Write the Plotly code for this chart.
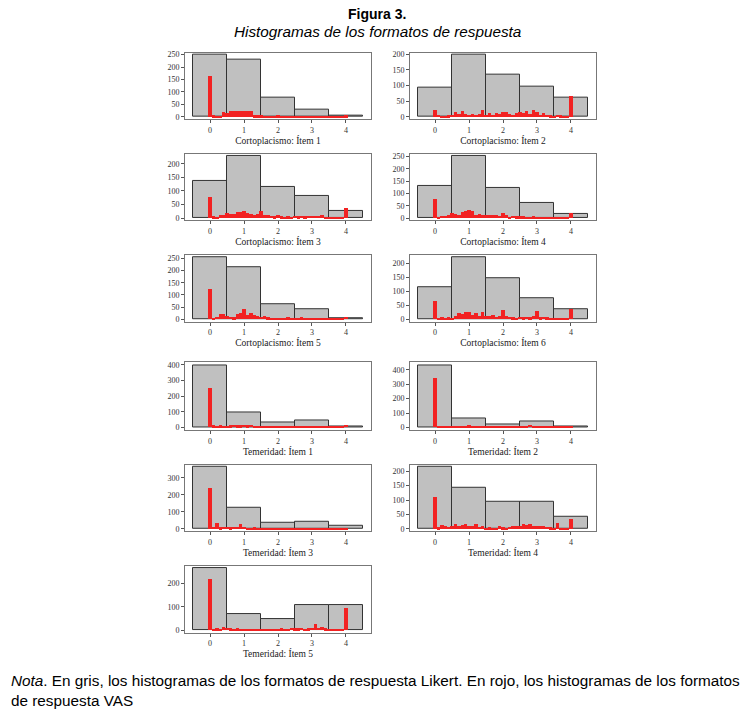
import plotly.graph_objects as go

# ---- datos ----
titles = [
    "Cortoplacismo: Ítem 1", "Cortoplacismo: Ítem 2",
    "Cortoplacismo: Ítem 3", "Cortoplacismo: Ítem 4",
    "Cortoplacismo: Ítem 5", "Cortoplacismo: Ítem 6",
    "Temeridad: Ítem 1", "Temeridad: Ítem 2",
    "Temeridad: Ítem 3", "Temeridad: Ítem 4",
    "Temeridad: Ítem 5",
]

# categorías Likert (0-4) y centros de clase de la escala VAS
likert_points = [0, 1, 2, 3, 4]
vas_points = [0.0, 0.1, 0.2, 0.3, 0.4, 0.5, 0.6, 0.7, 0.8, 0.9,
              1.0, 1.1, 1.2, 1.3, 1.4, 1.5, 1.6, 1.7, 1.8, 1.9,
              2.0, 2.1, 2.2, 2.3, 2.4, 2.5, 2.6, 2.7, 2.8, 2.9,
              3.0, 3.1, 3.2, 3.3, 3.4, 3.5, 3.6, 3.7, 3.8, 3.9, 4.0]
x_ticks = [0, 1, 2, 3, 4]

# frecuencias Likert (gris)
likert_c1 = [248, 228, 75, 30, 5]
likert_c2 = [94, 197, 135, 97, 61]
likert_c3 = [138, 227, 115, 81, 27]
likert_c4 = [132, 250, 122, 62, 15]
likert_c5 = [253, 215, 62, 41, 6]
likert_c6 = [114, 220, 145, 75, 36]
likert_t1 = [400, 94, 35, 42, 9]
likert_t2 = [433, 64, 21, 43, 7]
likert_t3 = [363, 126, 37, 43, 20]
likert_t4 = [214, 144, 95, 95, 42]
likert_t5 = [264, 71, 46, 106, 106]

# frecuencias VAS (rojo)
vas_c1 = [165, 8, 5, 6, 22, 15, 25, 24, 23, 26,
          24, 25, 26, 8, 7, 8, 5, 6, 4, 3,
          7, 5, 4, 3, 2, 3, 2, 5, 3, 2,
          4, 2, 3, 4, 1, 1, 1, 1, 1, 3, 8]
vas_c2 = [24, 8, 3, 5, 6, 8, 16, 10, 18, 9,
          8, 11, 8, 10, 23, 8, 14, 8, 14, 10,
          15, 17, 10, 8, 13, 16, 14, 20, 10, 22,
          15, 8, 13, 7, 6, 5, 7, 6, 4, 3, 66]
vas_c3 = [77, 6, 4, 10, 12, 18, 15, 16, 24, 22,
          25, 20, 15, 12, 14, 25, 10, 12, 8, 7,
          10, 6, 5, 6, 4, 8, 6, 9, 7, 9,
          8, 8, 9, 11, 3, 2, 2, 3, 2, 1, 38]
vas_c4 = [79, 5, 10, 9, 12, 19, 17, 14, 25, 27,
          31, 28, 13, 15, 14, 12, 14, 11, 12, 9,
          20, 12, 6, 10, 7, 8, 7, 6, 6, 7,
          5, 6, 4, 6, 3, 1, 1, 1, 1, 1, 19]
vas_c5 = [122, 4, 10, 22, 20, 14, 10, 8, 22, 26,
          40, 18, 27, 15, 12, 10, 14, 8, 5, 4,
          6, 5, 4, 7, 5, 6, 3, 7, 5, 6,
          3, 5, 4, 3, 2, 2, 2, 1, 2, 1, 10]
vas_c6 = [63, 3, 6, 3, 7, 5, 12, 22, 18, 25,
          27, 15, 23, 10, 26, 12, 10, 13, 8, 10,
          34, 12, 8, 6, 5, 8, 7, 9, 6, 10,
          30, 7, 9, 6, 4, 2, 1, 2, 1, 2, 36]
vas_t1 = [251, 10, 6, 10, 9, 8, 12, 15, 12, 10,
          14, 12, 13, 8, 5, 9, 4, 6, 7, 8,
          9, 8, 6, 4, 3, 6, 4, 8, 9, 5,
          4, 3, 6, 2, 1, 5, 2, 1, 1, 2, 15]
vas_t2 = [343, 10, 8, 9, 7, 6, 5, 10, 8, 4,
          12, 5, 4, 6, 3, 5, 4, 3, 5, 4,
          5, 3, 4, 3, 5, 3, 4, 6, 17, 4,
          5, 3, 4, 2, 3, 1, 2, 1, 1, 2, 7]
vas_t3 = [240, 12, 33, 10, 14, 12, 10, 15, 12, 28,
          14, 8, 6, 10, 5, 4, 6, 3, 4, 3,
          2, 4, 2, 3, 2, 6, 8, 5, 7, 9,
          8, 4, 3, 2, 1, 4, 1, 1, 1, 2, 8]
vas_t4 = [112, 6, 15, 12, 8, 10, 18, 12, 14, 18,
          12, 11, 16, 8, 9, 4, 6, 3, 5, 12,
          6, 4, 8, 11, 12, 9, 18, 14, 17, 12,
          11, 9, 12, 8, 6, 5, 22, 3, 2, 1, 34]
vas_t5 = [217, 5, 8, 6, 12, 10, 8, 6, 7, 5,
          6, 4, 5, 3, 4, 5, 3, 4, 5, 6,
          5, 7, 4, 6, 10, 8, 7, 10, 6, 8,
          10, 26, 9, 12, 7, 4, 3, 2, 5, 3, 94]

likert_counts = [likert_c1, likert_c2, likert_c3, likert_c4, likert_c5,
                 likert_c6, likert_t1, likert_t2, likert_t3, likert_t4,
                 likert_t5]
vas_counts = [vas_c1, vas_c2, vas_c3, vas_c4, vas_c5, vas_c6,
              vas_t1, vas_t2, vas_t3, vas_t4, vas_t5]
y_step = [50, 50, 50, 50, 50, 50, 100, 100, 100, 50, 100]

# ---- disposición (px en una página de 754x719) ----
W, H = 754, 719
col_px = [(185, 371), (410, 596)]
row_px = [(50, 117), (152, 219), (254, 321), (362, 430), (465, 532), (567, 634)]

serif = "Liberation Serif"
sans = "Liberation Sans"

fig = go.Figure()
layout_axes = {}

for i, title in enumerate(titles):
    r, c = divmod(i, 2)
    n = i + 1
    xname = "x" if n == 1 else f"x{n}"
    yname = "y" if n == 1 else f"y{n}"

    fig.add_trace(go.Bar(
        x=likert_points, y=likert_counts[i], width=1,
        marker=dict(color="#c0c0c0", line=dict(color="#333333", width=1)),
        xaxis=xname, yaxis=yname, showlegend=False,
    ))
    fig.add_trace(go.Bar(
        x=vas_points, y=vas_counts[i], width=0.1,
        marker=dict(color="#f22222", line=dict(width=0)),
        xaxis=xname, yaxis=yname, showlegend=False,
    ))

    ymax = max(max(likert_counts[i]), max(vas_counts[i]))
    x0, x1 = col_px[c]
    y0, y1 = row_px[r]

    layout_axes["xaxis" if n == 1 else f"xaxis{n}"] = dict(
        domain=[x0 / W, x1 / W], anchor=yname,
        range=[-0.74, 4.74], tickvals=x_ticks,
        ticks="outside", ticklen=3, tickcolor="#555555",
        showline=True, mirror=True, linecolor="#777777", linewidth=1,
        showgrid=False, zeroline=False,
        tickfont=dict(family=serif, size=8, color="#333333"),
        title=dict(text=title, standoff=1,
                   font=dict(family=serif, size=9.5, color="#222222")),
    )
    layout_axes["yaxis" if n == 1 else f"yaxis{n}"] = dict(
        domain=[1 - y1 / H, 1 - y0 / H], anchor=xname,
        range=[-0.04 * ymax, 1.04 * ymax], dtick=y_step[i],
        ticks="outside", ticklen=3, tickcolor="#555555",
        showline=True, mirror=True, linecolor="#777777", linewidth=1,
        showgrid=False, zeroline=False,
        tickfont=dict(family=serif, size=8, color="#333333"),
    )

fig.update_layout(**layout_axes)

fig.update_layout(
    width=W, height=H, autosize=False,
    margin=dict(l=0, r=0, t=0, b=0),
    barmode="overlay", bargap=0,
    plot_bgcolor="white", paper_bgcolor="white",
    annotations=[
        dict(text="<b>Figura 3.</b>", x=0.5, y=1 - 11 / H, xref="paper", yref="paper",
             yanchor="middle", showarrow=False,
             font=dict(family=sans, size=14, color="black")),
        dict(text="<i>Histogramas de los formatos de respuesta</i>", x=0.5, y=1 - 29 / H,
             xref="paper", yref="paper", yanchor="middle", showarrow=False,
             font=dict(family=sans, size=15.3, color="black")),
        dict(text="<i>Nota</i>. En gris, los histogramas de los formatos de respuesta Likert. "
                  "En rojo, los histogramas de los formatos<br>de respuesta VAS",
             x=9 / W, y=1 - 672 / H, xref="paper", yref="paper",
             xanchor="left", yanchor="top", align="left", showarrow=False,
             font=dict(family=sans, size=15.3, color="black")),
    ],
)

fig.write_html(
    "out.html",
    config={"displayModeBar": False},
    post_script="document.body.style.margin='0';"
                "document.documentElement.style.overflow='hidden';",
)
